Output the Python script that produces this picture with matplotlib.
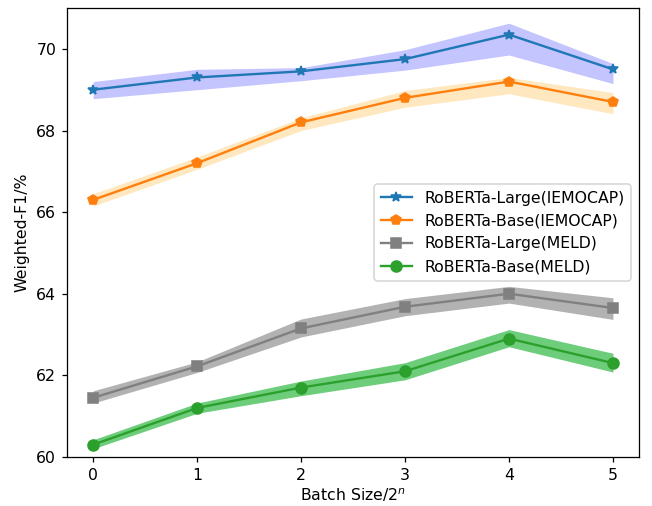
import matplotlib
matplotlib.use("Agg")
from matplotlib import pyplot as plt

x = [0, 1, 2, 3, 4, 5]

large_iemocap = [69.0, 69.3, 69.45, 69.75, 70.35, 69.5]
large_iemocap_hi = [69.2, 69.5, 69.54, 69.98, 70.63, 69.64]
large_iemocap_lo = [68.78, 69.0, 69.22, 69.48, 69.85, 69.15]

base_iemocap = [66.3, 67.2, 68.2, 68.8, 69.2, 68.7]
base_iemocap_hi = [66.45, 67.35, 68.31, 68.98, 69.3, 68.93]
base_iemocap_lo = [66.15, 67.05, 68.0, 68.57, 68.9, 68.41]

large_meld = [61.45, 62.22, 63.15, 63.68, 64.0, 63.65]
large_meld_hi = [61.62, 62.33, 63.38, 63.88, 64.18, 63.9]
large_meld_lo = [61.32, 62.07, 62.94, 63.46, 63.77, 63.37]

base_meld = [60.3, 61.2, 61.7, 62.1, 62.9, 62.3]
base_meld_hi = [60.42, 61.32, 61.86, 62.31, 63.12, 62.54]
base_meld_lo = [60.2, 61.07, 61.5, 61.89, 62.7, 62.08]

dpi = 113
fig, ax = plt.subplots(figsize=(652 / dpi, 506 / dpi), dpi=dpi)

ax.plot(x, large_iemocap, marker="*", markersize=7, color="C0", label="RoBERTa-Large(IEMOCAP)")
ax.fill_between(x, large_iemocap_lo, large_iemocap_hi, color="blue", alpha=0.23, linewidth=0)

ax.plot(x, base_iemocap, marker="p", markersize=7, color="C1", label="RoBERTa-Base(IEMOCAP)")
ax.fill_between(x, base_iemocap_lo, base_iemocap_hi, color="orange", alpha=0.25, linewidth=0)

ax.plot(x, large_meld, marker="s", markersize=6.5, color="gray", label="RoBERTa-Large(MELD)")
ax.fill_between(x, large_meld_lo, large_meld_hi, color="gray", alpha=0.6, linewidth=0)

ax.plot(x, base_meld, marker="o", markersize=7, color="C2", label="RoBERTa-Base(MELD)")
ax.fill_between(x, base_meld_lo, base_meld_hi, color="#6dcd7b", linewidth=0)

ax.set_ylim(60, 71)
ax.set_xlabel("Batch Size/2$^n$", labelpad=2.5)
ax.set_ylabel("Weighted-F1/%")
ax.legend(loc="center right")

fig.subplots_adjust(left=0.103, right=0.98, top=0.984, bottom=0.097)
fig.savefig("out.png")
